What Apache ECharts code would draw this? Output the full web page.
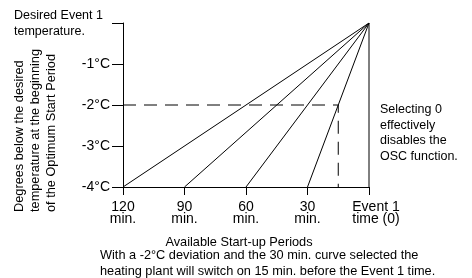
<!DOCTYPE html>
<html>
<head>
<meta charset="utf-8">
<script src="https://cdn.jsdelivr.net/npm/echarts@6/dist/echarts.min.js"></script>
<style>
  html, body { margin: 0; padding: 0; background: #fff; }
  #chart { width: 472px; height: 278px; }
</style>
</head>
<body>
<div id="chart"></div>
<script>
// start-up curves (minutes before Event 1), all ending at (0 min, 0 °C)
const curveStarts = [120, 90, 60, 30]
const lowestTemp = -4
// worked example: -2 °C deviation on the 30 min curve -> switch on at 15 min
const exampleDeviation = -2
const exampleSwitchOn = 15

const FONT = '"Liberation Sans", Arial, sans-serif'

const chart = echarts.init(document.getElementById('chart'))

const curveSeries = curveStarts.map(start => ({
  type: 'line',
  data: [[start, lowestTemp], [0, 0]],
  symbol: 'none',
  silent: true,
  lineStyle: { color: '#000', width: 1 }
}))

const option = {
  animation: false,
  grid: { left: 123, right: 103, top: 23, bottom: 91 },
  xAxis: {
    type: 'value',
    position: 'bottom',
    min: 0,
    max: 120,
    interval: 30,
    inverse: true,
    splitLine: { show: false },
    axisLine: { show: true, onZero: false, lineStyle: { color: '#000', width: 1 } },
    axisTick: { show: true, inside: false, length: 8, lineStyle: { color: '#000', width: 1 } },
    axisLabel: {
      margin: 14,
      color: '#000',
      fontFamily: FONT,
      fontSize: 14,
      lineHeight: 12,
      formatter: v => v === 0 ? '{e|Event 1}\n{e|time (0)}' : v + '\nmin.',
      rich: {
        e: { fontFamily: FONT, fontSize: 14, lineHeight: 12, color: '#000', padding: [0, 0, 0, 14] }
      }
    }
  },
  yAxis: {
    type: 'value',
    min: -4,
    max: 0,
    interval: 1,
    splitLine: { show: false },
    axisLine: { show: true, onZero: false, lineStyle: { color: '#000', width: 1 } },
    axisTick: { show: true, length: 11, lineStyle: { color: '#000', width: 1 } },
    axisLabel: {
      margin: 13,
      color: '#000',
      fontFamily: FONT,
      fontSize: 14,
      formatter: v => v === 0 ? '' : v + '°C'
    }
  },
  series: [
    ...curveSeries,
    {
      type: 'line',
      data: [[0, lowestTemp], [0, 0]],
      symbol: 'none',
      silent: true,
      lineStyle: { color: '#000', width: 1 }
    },
    {
      type: 'line',
      data: [[120, exampleDeviation], [exampleSwitchOn, exampleDeviation], [exampleSwitchOn, lowestTemp]],
      symbol: 'none',
      silent: true,
      lineStyle: { color: '#000', width: 1, type: [13, 8] }
    }
  ],
  graphic: [
    {
      type: 'text', left: 14, top: 8,
      style: { text: 'Desired Event 1\ntemperature.', fontFamily: FONT, fontSize: 12.5, lineHeight: 16, fill: '#000' }
    },
    {
      type: 'text', x: 11, y: 212, rotation: Math.PI / 2,
      style: {
        text: 'Degrees below the desired\ntemperature at the beginning\nof the Optimum Start Period',
        fontFamily: FONT, fontSize: 12.75, lineHeight: 16, fill: '#000',
        textAlign: 'left', textVerticalAlign: 'top'
      }
    },
    {
      type: 'text', left: 380, top: 102,
      style: { text: 'Selecting 0\neffectively\ndisables the\nOSC function.', fontFamily: FONT, fontSize: 12.5, lineHeight: 15.5, fill: '#000' }
    },
    {
      type: 'text', x: 239, y: 242,
      style: { text: 'Available Start-up Periods', fontFamily: FONT, fontSize: 12.75, fill: '#000', textAlign: 'center', textVerticalAlign: 'middle' }
    },
    {
      type: 'text', x: 100, y: 248,
      style: {
        text: 'With a -2°C deviation and the 30 min. curve selected the\nheating plant will switch on 15 min. before the Event 1 time.',
        fontFamily: FONT, fontSize: 12.75, lineHeight: 15.7, fill: '#000', textAlign: 'left', textVerticalAlign: 'top'
      }
    }
  ]
}

chart.setOption(option)
</script>
</body>
</html>
